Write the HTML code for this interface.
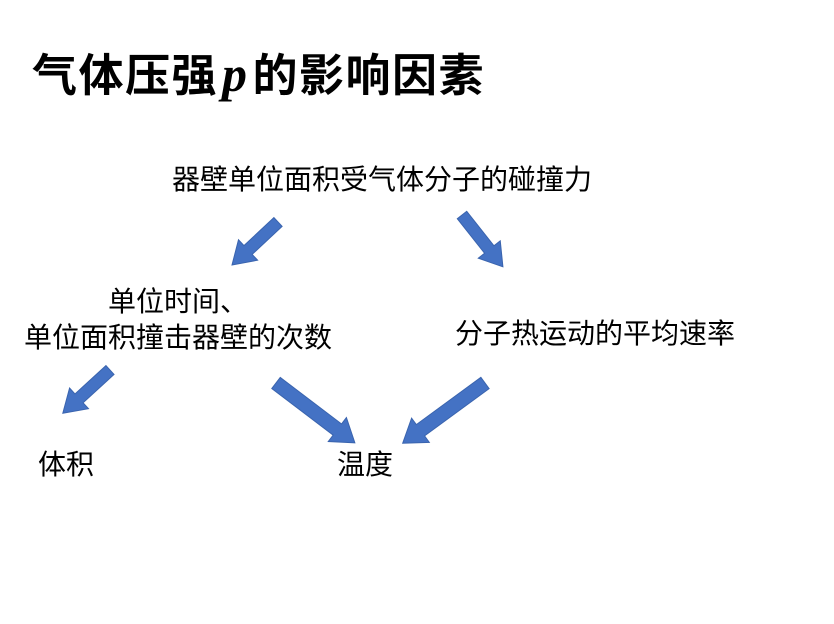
<!DOCTYPE html>
<html><head><meta charset="utf-8"><style>
body{margin:0;width:834px;height:624px;background:#fff;position:relative;overflow:hidden;font-family:"Liberation Sans","Noto Sans CJK SC",sans-serif;color:#000}
.t{position:absolute;font-size:28px;line-height:28px;white-space:nowrap}
</style></head><body>
<div class="t" style="left:32px;top:52px;font-size:45px;line-height:45px;font-weight:bold;letter-spacing:1.5px">气体压强<span style="font-family:'Liberation Serif',serif;font-style:italic;font-size:50px;padding:0 4px">p</span>的影响因素</div>
<div class="t" style="left:172px;top:166px">器壁单位面积受气体分子的碰撞力</div>
<div class="t" style="left:108px;top:288px">单位时间、</div>
<div class="t" style="left:24px;top:324px">单位面积撞击器壁的次数</div>
<div class="t" style="left:455px;top:320px">分子热运动的平均速率</div>
<div class="t" style="left:38px;top:451px">体积</div>
<div class="t" style="left:337px;top:451px">温度</div>
<svg width="834" height="624" style="position:absolute;left:0;top:0">
<g fill="#4472C4" stroke="#3a64ae" stroke-width="1">
<g transform="translate(278,222) rotate(136.9)"><polygon points="0,-6 41,-6 41,-14 63,0 41,14 41,6 0,6"/></g>
<g transform="translate(462,215) rotate(51.7)"><polygon points="0,-6 44,-6 44,-14 66,0 44,14 44,6 0,6"/></g>
<g transform="translate(110,370) rotate(137.5)"><polygon points="0,-6 42,-6 42,-14 64,0 42,14 42,6 0,6"/></g>
<g transform="translate(276,383) rotate(37.2)"><polygon points="0,-7 77,-7 77,-15 99,0 77,15 77,7 0,7"/></g>
<g transform="translate(485,383) rotate(143.8)"><polygon points="0,-7 80,-7 80,-15 102,0 80,15 80,7 0,7"/></g>
</g></svg>
</body></html>
